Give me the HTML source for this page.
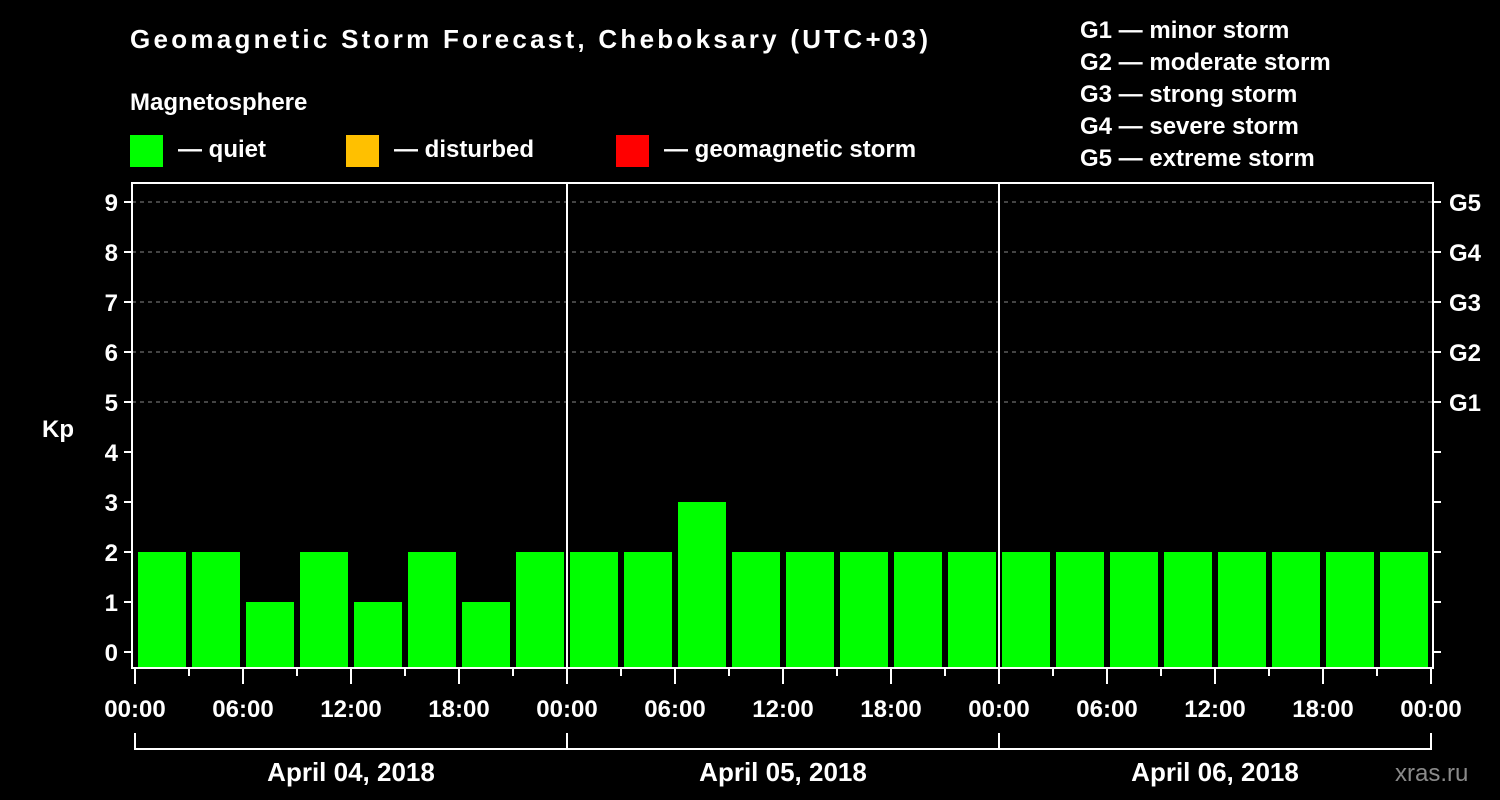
<!DOCTYPE html>
<html><head><meta charset="utf-8"><style>
html,body{margin:0;padding:0;background:#000;}
svg{display:block;font-family:"Liberation Sans",Arial,sans-serif;font-weight:bold;}
</style></head><body>
<svg id="chart" width="1500" height="800" viewBox="0 0 1500 800">
<rect width="1500" height="800" fill="#000"/>
<text x="130" y="48" font-size="26" fill="#fff" textLength="798">Geomagnetic Storm Forecast, Cheboksary (UTC+03)</text>
<text x="130" y="110" font-size="24" fill="#fff">Magnetosphere</text>
<g>
<rect x="130" y="135" width="33" height="32" fill="#00ff00"/>
<text x="178" y="157" font-size="24" fill="#fff">— quiet</text></g>
<g>
<rect x="346" y="135" width="33" height="32" fill="#ffc000"/>
<text x="394" y="157" font-size="24" fill="#fff">— disturbed</text></g>
<g>
<rect x="616" y="135" width="33" height="32" fill="#ff0000"/>
<text x="664" y="157" font-size="24" fill="#fff">— geomagnetic storm</text></g>
<g font-size="24" fill="#fff">
<text x="1080" y="38">G1 — minor storm</text>
<text x="1080" y="70">G2 — moderate storm</text>
<text x="1080" y="102">G3 — strong storm</text>
<text x="1080" y="134">G4 — severe storm</text>
<text x="1080" y="166">G5 — extreme storm</text>
</g>
<text x="42" y="437" font-size="24" fill="#fff">Kp</text>
<text x="1395" y="781" font-size="24" fill="#8a8a8a" font-weight="normal">xras.ru</text>
<g id="grid"></g><g id="bars"></g><g id="axes"></g>
</svg>
<script>
const days = ["April 04, 2018","April 05, 2018","April 06, 2018"];
const kpDay1 = [2,2,1,2,1,2,1,2];
const kpDay2 = [2,2,3,2,2,2,2,2];
const kpDay3 = [2,2,2,2,2,2,2,2];
const yTicks = [0,1,2,3,4,5,6,7,8,9];
const gLabels = ["G1","G2","G3","G4","G5"];
const xTickLabels = ["00:00","06:00","12:00","18:00"];

const NS="http://www.w3.org/2000/svg";
const L=132,R=1433,T=183,B=668;
const x0=135, pxPerHour=18;
const xs=h=>x0+h*pxPerHour;
const ys=v=>652-v*50;
function mk(tag,attrs,parent){const e=document.createElementNS(NS,tag);for(const k in attrs)e.setAttribute(k,attrs[k]);parent.appendChild(e);return e;}
const grid=document.getElementById('grid'),bars=document.getElementById('bars'),axes=document.getElementById('axes');
const colorFor=v=>v>=5?"#ff0000":(v>=4?"#ffc000":"#00ff00");

// grid for G levels
gLabels.forEach((g,i)=>{
  const y=ys(5+i);
  const ln=mk('line',{x1:L,x2:R,y1:y,y2:y,stroke:'#888','stroke-dasharray':'4,4','stroke-width':1},grid);
  
  
  const t=mk('text',{x:1449,y:y+9,'font-size':24,fill:'#fff'},axes);t.textContent=g;
  
  
});

// bars
const all=[kpDay1,kpDay2,kpDay3];
all.forEach((arr,d)=>arr.forEach((v,i)=>{
  const h=d*24+i*3;
  const r=mk('rect',{x:xs(h)+3,y:ys(v),width:3*pxPerHour-6,height:B-ys(v),fill:colorFor(v)},bars);
  
  
}));

// frame
const fr=mk('rect',{x:L,y:T,width:R-L,height:B-T,fill:'none',stroke:'#fff','stroke-width':2},axes);


[1,2].forEach(d=>{
  const ln=mk('line',{x1:xs(d*24),x2:xs(d*24),y1:T,y2:B,stroke:'#fff','stroke-width':2},axes);
  
  
});

// y ticks
yTicks.forEach(v=>{
  const y=ys(v);
  const tk=mk('line',{x1:124,x2:L,y1:y,y2:y,stroke:'#fff','stroke-width':2},axes);
  
  
  const tr=mk('line',{x1:R,x2:R+8,y1:y,y2:y,stroke:'#fff','stroke-width':2},axes);
  
  
  const t=mk('text',{x:118,y:y+9,'font-size':24,fill:'#fff','text-anchor':'end'},axes);t.textContent=v;
  
  
});

// x ticks
for(let h=0;h<=72;h+=3){
  const major=h%6===0;
  const tk=mk('line',{x1:xs(h),x2:xs(h),y1:B,y2:B+(major?16:8),stroke:'#fff','stroke-width':2},axes);
  
  
  if(major){
    const t=mk('text',{x:xs(h),y:717,'font-size':24,fill:'#fff','text-anchor':'middle'},axes);
    t.textContent=xTickLabels[(h%24)/6];
    
    
  }
}

// day brackets
days.forEach((d,i)=>{
  const p=mk('path',{d:`M${xs(i*24)},733 V749 H${xs(i*24+24)}`+(i===2?' V733':''),stroke:'#fff','stroke-width':2,fill:'none'},axes);
  
  
  const t=mk('text',{x:xs(i*24+12),y:781,'font-size':26,fill:'#fff','text-anchor':'middle'},axes);t.textContent=d;
  
  
});
</script>
</body></html>
